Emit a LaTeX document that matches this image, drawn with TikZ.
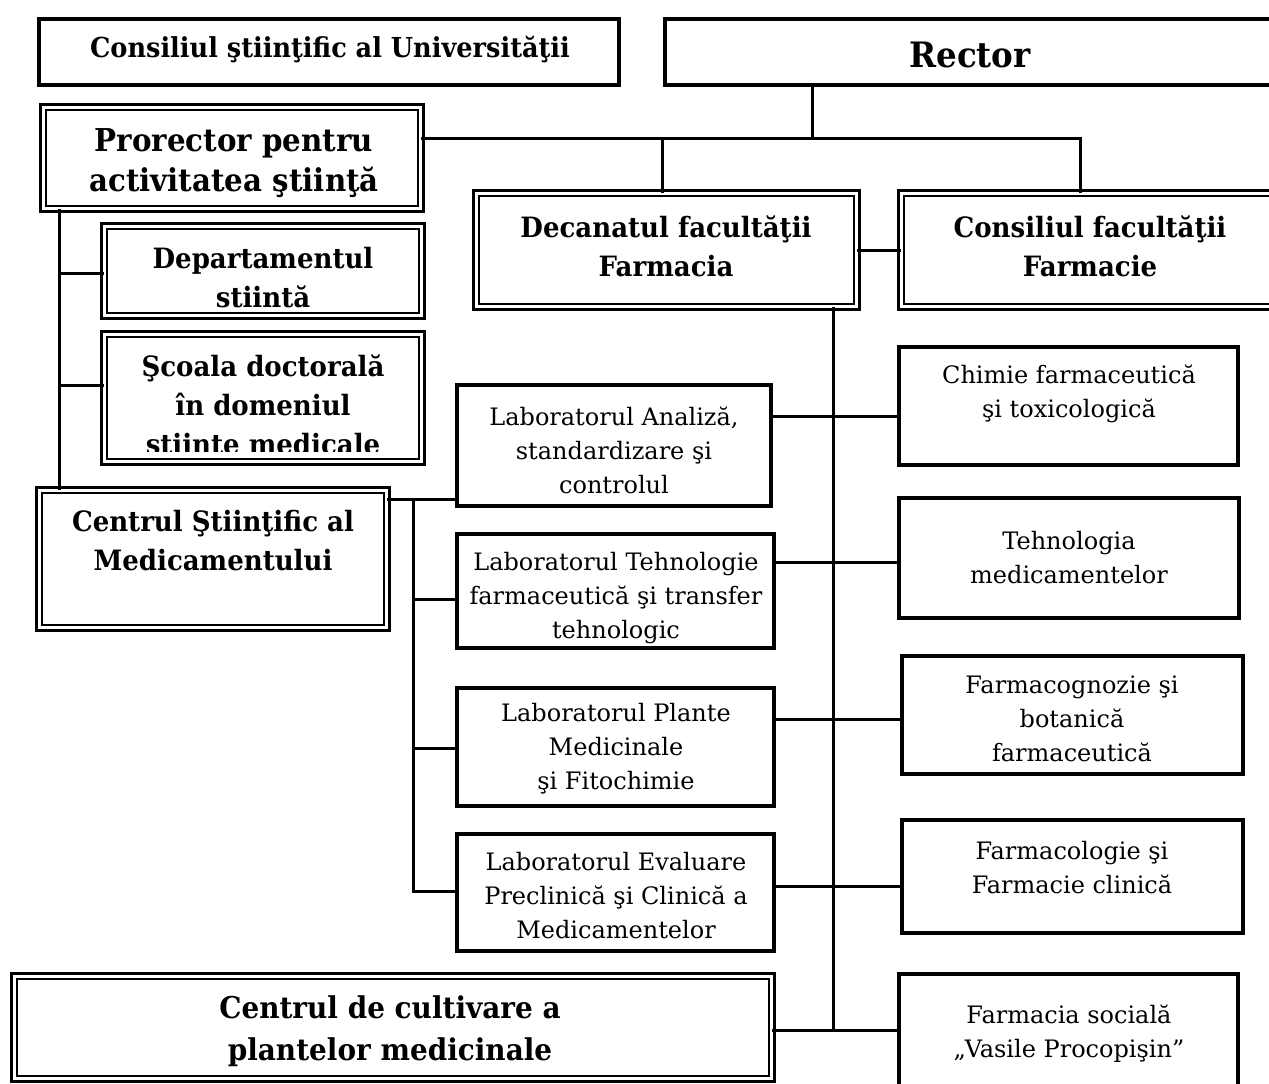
\documentclass[tikz,border=0pt]{standalone}
\usepackage{fontspec}
\setmainfont{DejaVu Serif}
\newfontfamily\bff{DejaVu Serif}[FakeStretch=0.93]
\usetikzlibrary{fit}
\begin{document}
\begin{tikzpicture}[x=1pt,y=-1pt,
  sbox/.style={draw, line width=4pt, fill=white, inner sep=-2pt, outer sep=0pt},
  dbox/.style={draw, line width=2.6pt, double=white, double distance=3pt, fill=white, inner sep=-4.1pt, outer sep=0pt},
  conn/.style={line width=3pt},
  bt/.style={font=\fontsize{28}{39}\bff\bfseries, align=center, inner sep=0pt},
  rt/.style={font=\fontsize{24}{34}\selectfont, align=center, inner sep=0pt}]
\path[use as bounding box, fill=white] (0,0) rectangle (1269,1084);
\clip (0,0) rectangle (1269,1084);

% ---- boxes ----
\node[sbox, fit={(37,17) (621,87)}] (cu) {};
\node[sbox, fit={(663,17) (1285,87)}] (rec) {};
\node[dbox, fit={(39,103) (425,213)}] (pro) {};
\node[dbox, fit={(100,222) (426,320)}] (dep) {};
\node[dbox, fit={(100,330) (426,466)}] (sco) {};
\node[dbox, fit={(472,189) (861,311)}] (dec) {};
\node[dbox, fit={(897,189) (1285,311)}] (cf) {};
\node[dbox, fit={(35,486) (391,632)}] (csm) {};
\node[sbox, fit={(455,383) (773,508)}] (lab1) {};
\node[sbox, fit={(455,532) (776,650)}] (lab2) {};
\node[sbox, fit={(455,686) (776,808)}] (lab3) {};
\node[sbox, fit={(455,832) (776,953)}] (lab4) {};
\node[sbox, fit={(897,345) (1240,467)}] (chim) {};
\node[sbox, fit={(897,496) (1241,620)}] (teh) {};
\node[sbox, fit={(900,654) (1245,776)}] (fcg) {};
\node[sbox, fit={(900,818) (1245,935)}] (fcl) {};
\node[sbox, fit={(897,972) (1240,1100)}] (fs) {};
\node[dbox, fit={(10,972) (776,1083)}] (ccp) {};

% ---- connectors ----
\coordinate (jr) at (812,138);
\coordinate (jd) at (662,138);
\coordinate (jc) at (1080,138);
\draw[conn] (rec.south -| jr) -- (jr);
\draw[conn] (pro.east |- jr) -- (jc) -- (jc |- cf.north);
\draw[conn] (jd) -- (jd |- dec.north);
\coordinate (jdc) at (862,250);
\draw[conn] (dec.east |- jdc) -- (cf.west |- jdc);
\coordinate (vb) at (833,1030);
\draw[conn] (dec.south -| vb) -- (vb);
\draw[conn] (ccp.east |- vb) -- (fs.west |- vb);
\coordinate (h1) at (833,416);
\coordinate (h2) at (833,562);
\coordinate (h3) at (833,719);
\coordinate (h4) at (833,886);
\draw[conn] (lab1.east |- h1) -- (chim.west |- h1);
\draw[conn] (lab2.east |- h2) -- (teh.west |- h2);
\draw[conn] (lab3.east |- h3) -- (fcg.west |- h3);
\draw[conn] (lab4.east |- h4) -- (fcl.west |- h4);
\coordinate (lv) at (59,273);
\coordinate (lw) at (59,385);
\draw[conn] (pro.south -| lv) -- (csm.north -| lv);
\draw[conn] (lv) -- (dep.west |- lv);
\draw[conn] (lw) -- (sco.west |- lw);
\coordinate (lt) at (413,499);
\coordinate (l2) at (413,599);
\coordinate (l3) at (413,748);
\coordinate (l4) at (413,891);
\draw[conn] (csm.east |- lt) -- (lab1.west |- lt);
\draw[conn] (lt) -- (l4) -- (lab4.west |- l4);
\draw[conn] (l2) -- (lab2.west |- l2);
\draw[conn] (l3) -- (lab3.west |- l3);

% ---- texts ----
\node[bt, font=\fontsize{27.5}{36}\bff\bfseries] (tcu) at (330,50) {Consiliul ştiinţific al Universităţii};
\node[bt, font=\fontsize{35}{40}\bff\bfseries] (trec) at (970,55) {Rector};
\node[bt, font=\fontsize{31.5}{40}\bff\bfseries] (tpro) at (234,163) {Prorector pentru\\activitatea ştiinţă};
\node[bt] (tdep) at (263,278) {Departamentul\\stiintă};
\begin{scope}
\clip (105,335) rectangle (421,451);
\node[bt] (tsco) at (263,405) {Şcoala doctorală\\în domeniul\\stiinte medicale};
\end{scope}
\node[bt] (tdec) at (666,246) {Decanatul facultăţii\\Farmacia};
\node[bt] (tcf) at (1090,246) {Consiliul facultăţii\\Farmacie};
\node[bt] (tcsm) at (213,541) {Centrul Ştiinţific al\\Medicamentului};
\node[rt] (tl1) at (614,450) {Laboratorul Analiză,\\standardizare şi\\controlul};
\begin{scope}
\clip (460,537) rectangle (771,643);
\node[rt] (tl2) at (616,598) {Laboratorul Tehnologie\\farmaceutică şi transfer\\tehnologic};
\end{scope}
\node[rt] (tl3) at (616,749) {Laboratorul Plante\\Medicinale\\şi Fitochimie};
\node[rt] (tl4) at (616,896) {Laboratorul Evaluare\\Preclinică şi Clinică a\\Medicamentelor};
\node[rt] (tch) at (1069,394) {Chimie farmaceutică\\şi toxicologică};
\node[rt] (tte) at (1069,558) {Tehnologia\\medicamentelor};
\node[rt] (tfg) at (1072,719) {Farmacognozie şi\\botanică\\farmaceutică};
\node[rt] (tfl) at (1072,868) {Farmacologie şi\\Farmacie clinică};
\node[rt] (tfs) at (1069,1034) {Farmacia socială\\„Vasile Procopişin”};
\begin{scope}
\clip (15,977) rectangle (771,1070);
\node[bt, font=\fontsize{30}{42}\bff\bfseries] (tccp) at (390,1031) {Centrul de cultivare a\\plantelor medicinale};
\end{scope}
\end{tikzpicture}
\end{document}
